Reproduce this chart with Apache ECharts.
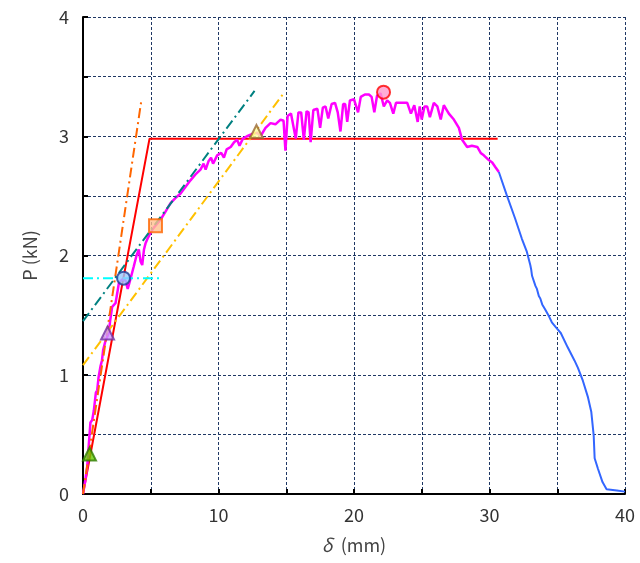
<!DOCTYPE html>
<html><head><meta charset="utf-8">
<script src="https://cdn.jsdelivr.net/npm/echarts@6/dist/echarts.min.js"></script>
<style>html,body{margin:0;padding:0;background:#fff}#c{width:640px;height:563px}</style>
</head><body><div id="c"></div>
<script>
const xTicks = [0, 10, 20, 30, 40];
const yTicks = [0, 1, 2, 3, 4];
const bilinear = [[0,0],[4.91,2.98],[30.6,2.98]];
const magentaCurve = [[0,0],[0.15,0.1],[0.31,0.23],[0.45,0.45],[0.55,0.6],[0.68,0.62],[0.8,0.7],[0.95,0.85],[1.05,0.87],[1.15,0.98],[1.29,1.07],[1.4,1.12],[1.49,1.21],[1.65,1.28],[1.9,1.35],[2.0,1.45],[2.15,1.57],[2.25,1.58],[2.4,1.6],[2.55,1.7],[2.65,1.77],[2.9,1.8],[3.14,1.79],[3.3,1.72],[3.45,1.78],[3.75,1.91],[3.95,2.0],[4.12,2.05],[4.25,1.95],[4.37,1.92],[4.5,2.05],[4.61,2.1],[4.8,2.15],[4.98,2.19],[5.2,2.23],[5.72,2.3],[6.1,2.37],[6.46,2.44],[6.8,2.48],[7.2,2.52],[7.6,2.58],[7.93,2.63],[8.3,2.68],[8.67,2.72],[8.9,2.77],[9.05,2.72],[9.26,2.79],[9.45,2.82],[9.6,2.77],[9.9,2.84],[10.2,2.86],[10.4,2.82],[10.6,2.89],[10.9,2.91],[11.15,2.95],[11.38,2.97],[11.55,2.92],[11.8,2.98],[12.1,3.0],[12.5,3.02],[12.85,3.03],[13.1,3.0],[13.47,3.07],[13.84,3.11],[14.2,3.1],[14.58,3.14],[14.8,3.13],[14.94,2.88],[15.1,3.17],[15.35,3.19],[15.7,2.98],[15.9,3.2],[16.1,3.2],[16.3,2.97],[16.5,3.21],[16.65,3.2],[16.8,2.95],[17.0,3.22],[17.3,3.23],[17.5,3.07],[17.7,3.24],[17.9,3.25],[18.1,3.15],[18.35,3.27],[18.6,3.28],[18.8,3.2],[19.0,3.04],[19.2,3.27],[19.35,3.27],[19.5,3.12],[19.7,3.3],[20.0,3.31],[20.3,3.2],[20.5,3.33],[20.8,3.35],[21.1,3.35],[21.3,3.33],[21.5,3.2],[21.7,3.34],[21.96,3.36],[22.2,3.25],[22.45,3.3],[22.65,3.28],[22.9,3.19],[23.1,3.28],[23.43,3.28],[23.93,3.28],[24.2,3.19],[24.45,3.26],[24.7,3.12],[24.85,3.25],[25.0,3.14],[25.2,3.25],[25.4,3.25],[25.6,3.16],[25.89,3.28],[26.15,3.25],[26.4,3.14],[26.63,3.26],[27.0,3.19],[27.37,3.14],[27.74,3.07],[27.98,2.97],[28.35,2.91],[28.7,2.92],[29.1,2.91],[29.35,2.86],[29.58,2.84],[29.95,2.8],[30.2,2.78],[30.44,2.74],[30.69,2.70]];
const blueCurve = [[30.69,2.70],[30.76,2.70],[31.26,2.51],[31.89,2.31],[32.39,2.14],[32.76,2.03],[33.01,1.92],[33.08,1.88],[33.14,1.83],[33.39,1.745],[33.5,1.72],[33.64,1.66],[33.75,1.64],[33.89,1.59],[34.1,1.55],[34.39,1.49],[34.6,1.44],[34.89,1.40],[35.26,1.35],[35.77,1.23],[36.27,1.12],[36.52,1.06],[36.89,0.95],[37.27,0.81],[37.51,0.69],[37.69,0.49],[37.76,0.30],[38.01,0.21],[38.34,0.10],[38.64,0.04],[39.4,0.03],[40,0.02]];
const orangeLine = [[0,0],[4.32,3.31]];
const tealLine = [[0,1.45],[12.66,3.38]];
const goldLine = [[0,1.08],[14.87,3.37]];
const cyanLine = [[0,1.81],[5.87,1.81]];
const markerPoints = [
  {name:'green', value:[0.48,0.335], symbol:'triangle', fill:'#66cc00', stroke:'#2e7d00'},
  {name:'purple', value:[1.81,1.35], symbol:'triangle', fill:'#cc99ff', stroke:'#7030a0'},
  {name:'bluecircle', value:[2.99,1.81], symbol:'circle', fill:'#99ccff', stroke:'#1f3a93'},
  {name:'square', value:[5.35,2.25], symbol:'rect', fill:'#ffc090', stroke:'#ff6600'},
  {name:'yellow', value:[12.8,3.04], symbol:'triangle', fill:'#ffff99', stroke:'#996633'},
  {name:'pink', value:[22.18,3.37], symbol:'circle', fill:'#ff99cc', stroke:'#ff0000'}
];

const font = '"Noto Sans CJK JP", "Noto Sans", sans-serif';
const chart = echarts.init(document.getElementById('c'), null, {renderer:'canvas'});
const dashLine = (data, color) => ({type:'line', data, symbol:'none', silent:true,
  lineStyle:{color, width:2, type:[10,4,2,4]}, z:3});
chart.setOption({
  animation:false,
  grid:{left:83, right:15, top:17, bottom:69, containLabel:false},
  xAxis:{type:'value', min:0, max:40, interval:5,
    name:'{d|δ}  (mm)', nameLocation:'middle', nameGap:42,
    nameTextStyle:{fontFamily:font, fontSize:18, color:'#444',
      rich:{d:{fontFamily:font, fontSize:18, color:'#444', fontStyle:'italic'}}},
    axisLine:{show:true, lineStyle:{color:'#000', width:2}},
    axisTick:{show:true, inside:true, length:5, lineStyle:{color:'#000', width:2}},
    axisLabel:{fontFamily:font, fontSize:18, color:'#333', margin:12,
      formatter:v => xTicks.includes(v) ? String(v) : ''},
    splitLine:{show:true, lineStyle:{color:'#1f3864', width:1, type:[3,2]}}
  },
  yAxis:{type:'value', min:0, max:4, interval:0.5,
    name:'P (kN)', nameLocation:'middle', nameGap:44,
    nameTextStyle:{fontFamily:font, fontSize:18, color:'#444'},
    axisLine:{show:true, lineStyle:{color:'#000', width:2}},
    axisTick:{show:true, inside:true, length:5, lineStyle:{color:'#000', width:2}},
    axisLabel:{fontFamily:font, fontSize:18, color:'#333', margin:14,
      formatter:v => yTicks.includes(v) ? String(v) : ''},
    splitLine:{show:true, lineStyle:{color:'#1f3864', width:1, type:[3,2]}}
  },
  series:[
    {type:'line', data:bilinear, symbol:'none', lineStyle:{color:'#ff0000', width:2}, z:2},
    {type:'line', data:magentaCurve, symbol:'none', lineStyle:{color:'#ff00ff', width:2.5}, z:2},
    {type:'line', data:blueCurve, symbol:'none', lineStyle:{color:'#3366ff', width:2}, z:2},
    dashLine(orangeLine, '#ff6600'),
    dashLine(tealLine, '#008080'),
    dashLine(goldLine, '#ffc000'),
    dashLine(cyanLine, '#00ffff'),
    {type:'scatter', z:5, symbolSize:13,
      data: markerPoints.map(p => ({value:p.value, symbol:p.symbol,
        itemStyle:{color:p.fill, borderColor:p.stroke, borderWidth:2}}))}
  ]
});
</script></body></html>
